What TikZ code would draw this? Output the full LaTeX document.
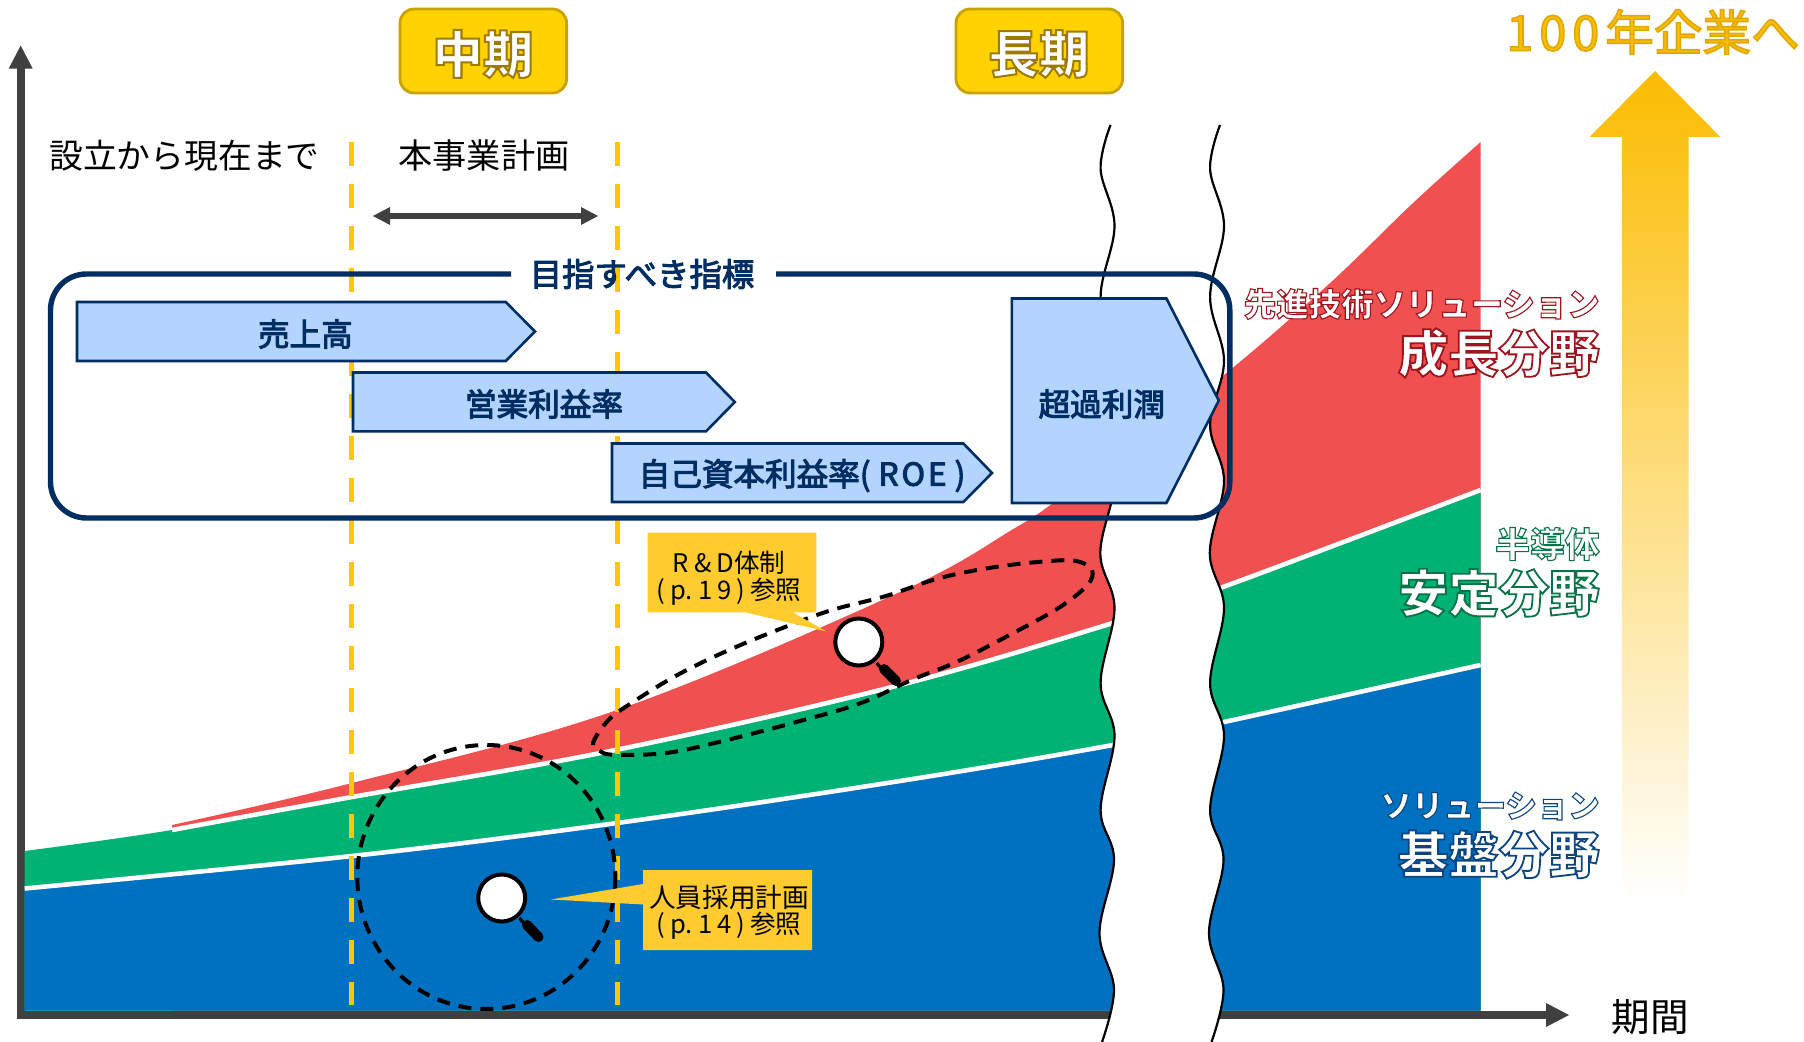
\documentclass[tikz,border=0pt]{standalone}
\usepackage{fontspec}
\setmainfont{Noto Sans CJK JP}
\newfontfamily\jp{Noto Sans CJK JP}
\newcommand\fsz[1]{\fontsize{#1}{#1}\selectfont}
% text drawn in PDF fill-and-stroke mode: width, fill rgb, stroke rgb, text
\newcommand\strk[4]{\special{pdf:code q 2 Tr #1 w #2 rg #3 RG}#4\special{pdf:code 0 Tr Q}}
\newcommand\navytext[1]{\strk{0.5}{0 0.176 0.384}{0 0.176 0.384}{#1}}
\newcommand\glowR[2]{\strk{#1}{1 1 1}{0.62 0.08 0.12}{#2}}
\newcommand\glowG[2]{\strk{#1}{1 1 1}{0.03 0.45 0.28}{#2}}
\newcommand\glowB[2]{\strk{#1}{1 1 1}{0.05 0.27 0.5}{#2}}
\newcommand\glowY[2]{\strk{#1}{1 1 1}{0.62 0.48 0}{#2}}
\definecolor{navy}{HTML}{002D62}
\definecolor{darkgray}{HTML}{404040}
\definecolor{blueA}{HTML}{0070C0}
\definecolor{greenA}{HTML}{00B274}
\definecolor{redA}{HTML}{F15050}
\definecolor{goldA}{HTML}{FFD200}
\definecolor{goldB}{HTML}{C9A200}
\definecolor{dashY}{HTML}{FFC800}
\definecolor{callout}{HTML}{FFCB2E}
\definecolor{chev}{HTML}{B3D4FF}
\definecolor{gold100}{HTML}{FBBC00}
\tikzset{
  x=0.5pt,y=-0.5pt,
  whiteline/.style={draw=white,line width=2.3pt},
  ydash/.style={draw=dashY,line width=2.5pt,dash pattern=on 12pt off 9pt},
  bdash/.style={draw=black,line width=2pt,dash pattern=on 6.5pt off 4.5pt},
  chevron/.style={draw=navy,line width=1.3pt,fill=chev,line join=miter},
  chevtext/.style={text=navy,font=\jp\fsz{15.8},inner sep=0pt},
  period/.style={draw=goldB,line width=1.4pt,fill=goldA,rounded corners=7pt},
  plain/.style={text=black,font=\jp\fsz{16.9},inner sep=0pt},
  callbox/.style={fill=callout},
  calltext/.style={text=black,font=\jp\fsz{12.8},inner sep=0pt,align=center},
  lens/.style={draw=black,line width=2pt,fill=white},
  ax/.style={draw=darkgray,line width=4pt},
  axhead/.style={fill=darkgray},
  wave/.style={draw=black,line width=1.1pt},
  glowtext/.style={inner sep=0pt,text=white,font=\jp\bfseries\fsz{#1}},
}
\begin{document}
\begin{tikzpicture}
\useasboundingbox (0,0) rectangle (1804,1042);
% axes
\draw[ax] (20.7,1015) -- (20.7,60);
\fill[axhead] (20.7,45.6) -- (32.7,68.6) -- (8.7,68.6) -- cycle;
\draw[ax] (16.7,1015) -- (1550,1015);
\fill[axhead] (1569,1015) -- (1546,1003) -- (1546,1027) -- cycle;
% areas
\fill[redA] plot[smooth,tension=.6] coordinates {(172,825) (352,783) (617,710) (900,592) (1015,528) (1056,501) (1115,458) (1224,375) (1329,284) (1413,203) (1480.6,142)} -- (1480.6,1010.7) -- (172,1010.7) -- cycle;
\fill[greenA] plot[smooth,tension=.6] coordinates {(24.7,851) (172,830) (352,797) (617,749.7) (900,685) (1113,623) (1224,586.6) (1480.6,490)} -- (1480.6,1010.7) -- (24.7,1010.7) -- cycle;
\draw[whiteline] plot[smooth,tension=.6] coordinates {(172,830) (352,797) (617,749.7) (900,685) (1113,623) (1224,586.6) (1480.6,490)};
\fill[blueA] plot[smooth,tension=.6] coordinates {(24.7,888.5) (352,856) (617,823) (900,781) (1113,745) (1224,722) (1480.6,665)} -- (1480.6,1010.7) -- (24.7,1010.7) -- cycle;
\draw[whiteline] plot[smooth,tension=.6] coordinates {(24.7,888.5) (352,856) (617,823) (900,781) (1113,745) (1224,722) (1480.6,665)};
% break band
\fill[white] plot[smooth,tension=.6] coordinates {(1110.5,125) (1100.6,169) (1114.5,226) (1100.6,297) (1114.5,361) (1100.6,425) (1114.5,481) (1100.3,553) (1114.5,608) (1100.6,683) (1114.5,736) (1100.6,810) (1114,860) (1099.5,933) (1114,989) (1102,1042)}
  -- plot[smooth,tension=.6] coordinates {(1211.5,1042) (1223.5,989) (1209,933) (1223.5,860) (1210.1,810) (1224,736) (1210.1,683) (1224,608) (1209.8,553) (1224,481) (1210.1,425) (1224,361) (1210.1,297) (1224,226) (1210.1,169) (1220,125)} -- cycle;
\draw[wave] plot[smooth,tension=.6] coordinates {(1110.5,125) (1100.6,169) (1114.5,226) (1100.6,297) (1114.5,361) (1100.6,425) (1114.5,481) (1100.3,553) (1114.5,608) (1100.6,683) (1114.5,736) (1100.6,810) (1114,860) (1099.5,933) (1114,989) (1102,1042)};
\draw[wave] plot[smooth,tension=.6] coordinates {(1220,125) (1210.1,169) (1224,226) (1210.1,297) (1224,361) (1210.1,425) (1224,481) (1209.8,553) (1224,608) (1210.1,683) (1224,736) (1210.1,810) (1223.5,860) (1209,933) (1223.5,989) (1211.5,1042)};
% yellow dashes
\draw[ydash] (351.5,142) -- (351.5,1005);
\draw[ydash] (617.7,142) -- (617.7,1005);
% big arrow
\shade[top color=gold100,bottom color=white] (1655,71) -- (1720.4,137) -- (1688.7,137) -- (1688.7,900) -- (1621.8,900) -- (1621.8,137) -- (1589.5,137) -- cycle;
% dashed regions
\draw[bdash] (486.3,877) ellipse [x radius=129,y radius=132];
\draw[bdash] plot[smooth cycle,tension=.6] coordinates {(593,743) (600,751) (614,754.7) (666,753) (723,741) (803.7,720) (861,703) (911.5,680) (957.6,661.5) (1009.5,635) (1058.5,608) (1087.4,585) (1092,570) (1078.7,561.6) (1055.7,560.6) (998,566.6) (940,578) (886,596) (832,610) (786.4,626.5) (729,650) (677.4,675) (631.5,703) (608.5,720)};
% callouts
\fill[callbox] (647.5,532.6) -- (816.3,532.6) -- (816.3,612.5) -- (793,612.5) -- (826.6,631.5) -- (746,612.5) -- (647.5,612.5) -- cycle;
\fill[callbox] (643,870) -- (812,870) -- (812,950) -- (643,950) -- (643,904.5) -- (551,899.5) -- (643,884) -- cycle;
\node[calltext] (rd1) at (729,562.5) {R\kern2.5pt\&\kern2.5pt D体制};
\node[calltext] (rd2) at (729,592) {(\kern2.5pt p.\kern2.5pt 1\kern2.5pt 9\kern2.5pt)\kern2.5pt参照};
\node[calltext,font=\jp\fsz{13.3}] (hr1) at (729,897) {人員採用計画};
\node[calltext] (hr2) at (729,926) {(\kern2.5pt p.\kern2.5pt 1\kern2.5pt 4\kern2.5pt)\kern2.5pt参照};
% magnifiers
\draw[black,line width=1.6pt] (519.5,918) -- (527,927);
\draw[black,line width=5pt,line cap=round] (527,925) -- (538.5,937);
\draw[lens] (501.7,898) circle [radius=23.5];
\draw[black,line width=1.6pt] (876.6,663) -- (884,671);
\draw[black,line width=5pt,line cap=round] (884,669) -- (896,681);
\draw[lens] (858.8,642) circle [radius=23.5];
% indicator frame
\draw[navy,line width=2.7pt,rounded corners=18pt] (511,274) -- (50.5,274) -- (50.5,518) -- (1229.8,518) -- (1229.8,274) -- (776,274);
\node[text=navy,font=\jp\fsz{16.2},inner sep=0pt] (goal) at (642,274) {\navytext{目指すべき指標}};
% chevrons
\draw[chevron] (77,302) -- (505.7,302) -- (535,331.5) -- (505.7,361) -- (77,361) -- cycle;
\node[chevtext] (sales) at (305.4,334) {\navytext{売上高}};
\draw[chevron] (353,372.5) -- (706,372.5) -- (734.8,402) -- (706,431.4) -- (353,431.4) -- cycle;
\node[chevtext] (margin) at (544,404) {\navytext{営業利益率}};
\draw[chevron] (612,443.5) -- (963.4,443.5) -- (992,473) -- (963.4,502) -- (612,502) -- cycle;
\node[chevtext] (roe) at (802,475.5) {\navytext{自己資本利益率(\kern4pt R\kern1.5pt O\kern1.5pt E\kern4pt)}};
\draw[chevron] (1011.8,298.5) -- (1166.4,298.5) -- (1218.8,400.6) -- (1166.4,503) -- (1011.8,503) -- cycle;
\node[chevtext] (excess) at (1101.8,404) {\navytext{超過利潤}};
% top boxes
\draw[period] (400,9) rectangle (566.6,93);
\draw[period] (956,9) rectangle (1122.6,93);
\node[glowtext=25.3] (mid) at (483,54) {\glowY{1}{中期}};
\node[glowtext=25.3] (long) at (1039,54) {\glowY{1}{長期}};
% plain texts
\node[plain] (since) at (184.5,155.5) {設立から現在まで};
\node[plain,font=\jp\fsz{17.1}] (plan) at (484,155.5) {本事業計画};
\node[plain,font=\jp\fsz{19.3}] (period) at (1650,1017) {期間};
\draw[darkgray,line width=3pt] (390,216) -- (581,216);
\fill[darkgray] (373,216) -- (390,207) -- (390,225) -- cycle;
\fill[darkgray] (598,216) -- (581,207) -- (581,225) -- cycle;
% century
\node[inner sep=0pt,text=gold100,font=\jp\fsz{24.3}] (century) at (1653,32) {\strk{0.8}{0.98 0.74 0}{0.88 0.66 0}{1\kern3pt 0\kern3pt 0\kern3pt 年企業へ}};
% field labels
\node[glowtext=16.2,anchor=east] (fa) at (1600,304) {\glowR{0.55}{先進技術ソリューション}};
\node[glowtext=25.2,anchor=east] (fb) at (1600,353) {\glowR{0.9}{成長分野}};
\node[glowtext=17.4,anchor=east] (fc) at (1600,544) {\glowG{0.55}{半導体}};
\node[glowtext=25.2,anchor=east] (fd) at (1600,593) {\glowG{0.9}{安定分野}};
\node[glowtext=15.7,anchor=east] (fe) at (1600,806) {\glowB{0.55}{ソリューション}};
\node[glowtext=25.2,anchor=east] (ff) at (1600,854.5) {\glowB{0.9}{基盤分野}};
\end{tikzpicture}
\end{document}
